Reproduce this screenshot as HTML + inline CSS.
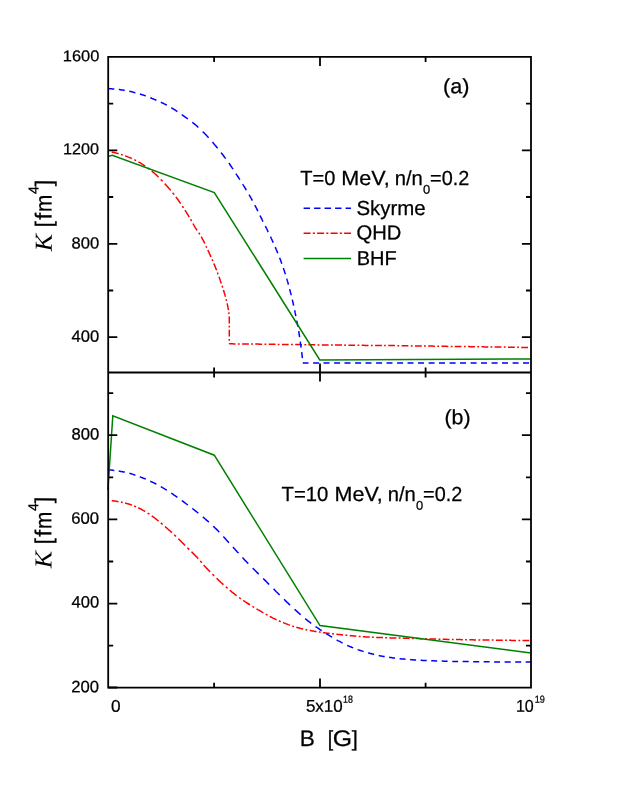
<!DOCTYPE html>
<html><head><meta charset="utf-8"><title>K vs B</title>
<style>
html,body{margin:0;padding:0;background:#fff;}
body{width:623px;height:806px;overflow:hidden;}
svg{display:block;will-change:transform;}
text{font-family:"Liberation Sans",sans-serif;fill:#000;stroke:#000;stroke-width:0.25px;text-rendering:geometricPrecision;}
text.it{font-family:"Liberation Serif",serif;font-style:italic;stroke:none;}
</style></head>
<body>
<svg width="623" height="806" viewBox="0 0 623 806">
<rect x="0" y="0" width="623" height="806" fill="#fff"/>
<g fill="none" stroke-width="1.5" stroke-linejoin="miter">
<path d="M111.7,152.0 112.6,152.2 113.4,152.4 114.3,152.6 115.2,152.8 116.0,153.1 116.9,153.3 117.8,153.5 118.6,153.8 M121.0,154.5 121.9,154.7 122.7,155.0 M125.1,155.8 125.9,156.1 126.8,156.4 127.6,156.7 128.4,157.1 129.3,157.4 130.1,157.8 130.9,158.1 131.7,158.5 131.9,158.6 M134.3,159.7 135.1,160.1 135.9,160.5 136.1,160.6 M138.4,161.9 139.2,162.3 140.0,162.7 140.7,163.2 141.5,163.6 142.2,164.1 143.0,164.6 143.7,165.1 144.5,165.6 145.2,166.1 M147.6,167.8 148.3,168.3 149.0,168.8 149.4,169.2 M151.7,170.9 152.4,171.5 153.0,172.1 153.7,172.6 154.4,173.2 155.0,173.8 155.7,174.4 156.4,175.0 157.0,175.6 157.6,176.3 158.3,176.9 158.5,177.1 M160.8,179.4 161.4,180.1 162.1,180.7 162.6,181.2 M164.7,183.6 165.3,184.2 165.9,184.9 166.5,185.6 167.1,186.2 167.7,186.9 168.3,187.6 168.9,188.3 169.5,188.9 170.1,189.6 170.6,190.3 170.7,190.4 M172.6,192.7 173.1,193.4 173.7,194.1 174.1,194.6 M175.9,196.9 176.4,197.6 176.9,198.3 177.5,199.0 178.0,199.7 178.5,200.5 179.0,201.2 179.5,201.9 180.0,202.6 180.5,203.4 180.7,203.7 M182.3,206.1 182.8,206.8 183.3,207.5 183.5,207.8 M185.0,210.1 185.4,210.9 185.9,211.6 186.4,212.4 186.9,213.1 187.3,213.9 187.8,214.6 188.3,215.4 188.7,216.2 189.2,216.9 189.3,217.1 M190.5,219.3 191.0,220.0 191.4,220.8 191.6,221.1 M192.9,223.5 193.3,224.2 193.8,225.0 194.2,225.8 194.7,226.6 195.1,227.3 195.6,228.1 196.1,228.8 196.6,229.6 197.0,230.3 M198.7,232.7 199.2,233.4 199.7,234.1 199.9,234.4 M201.3,236.7 201.7,237.5 202.1,238.3 202.5,239.1 203.0,239.9 203.4,240.7 203.8,241.5 204.2,242.3 204.6,243.1 204.8,243.5 M206.0,246.0 206.3,246.8 206.7,247.6 206.8,247.7 M207.8,250.0 208.2,250.8 208.6,251.6 209.0,252.4 209.3,253.3 209.7,254.1 210.1,254.9 210.4,255.7 210.8,256.5 211.0,256.8 M212.0,259.3 212.4,260.1 212.8,260.9 212.8,261.1 M213.8,263.4 214.1,264.2 214.5,265.0 214.8,265.9 215.2,266.7 215.5,267.5 215.8,268.3 216.1,269.2 216.5,270.0 216.5,270.2 M217.4,272.5 217.7,273.3 218.0,274.2 218.1,274.3 M219.0,276.7 219.3,277.5 219.6,278.4 219.9,279.2 220.2,280.1 220.4,280.9 220.7,281.8 221.0,282.6 221.3,283.5 M222.1,285.8 222.4,286.7 222.6,287.5 222.7,287.7 M223.4,289.9 223.7,290.8 223.9,291.6 224.2,292.5 224.5,293.3 224.7,294.2 225.0,295.0 225.2,295.9 225.5,296.7 M226.1,299.2 226.3,300.0 226.5,300.9 M227.1,303.3 227.3,304.2 227.5,305.1 227.7,305.9 227.9,306.8 228.0,307.7 228.2,308.6 228.4,309.5 228.5,310.2 M228.8,312.4 228.9,313.3 229.0,314.2 M229.2,316.5 229.3,317.4 229.3,318.4 229.3,319.4 229.3,320.4 229.3,321.4 229.3,322.4 229.3,323.4 M229.3,325.8 229.3,326.8 229.3,327.6 M229.3,329.8 229.3,330.8 229.3,331.8 229.3,332.8 229.3,333.8 229.3,334.8 229.3,335.8 229.3,336.6 M229.3,339.0 229.3,340.0 229.3,340.8 M229.3,343.2 229.7,343.8 230.7,343.8 231.7,343.8 232.7,343.8 233.7,343.9 234.7,343.9 235.5,343.9 M237.9,343.9 238.9,343.9 239.7,343.9 M242.1,344.0 243.1,344.0 244.1,344.0 245.1,344.0 246.1,344.0 247.1,344.0 248.1,344.0 248.9,344.0 M251.1,344.1 252.1,344.1 252.9,344.1 M255.3,344.1 256.3,344.1 257.3,344.1 258.3,344.1 259.3,344.2 260.3,344.2 261.3,344.2 262.1,344.2 M264.5,344.2 265.5,344.2 266.3,344.2 M268.7,344.3 269.7,344.3 270.7,344.3 271.7,344.3 272.7,344.3 273.7,344.3 274.7,344.3 275.5,344.3 M277.7,344.4 278.7,344.4 279.5,344.4 M281.9,344.4 282.9,344.4 283.9,344.4 284.8,344.5 285.8,344.5 286.8,344.5 287.8,344.5 288.6,344.5 M291.0,344.5 292.0,344.5 292.8,344.6 M295.2,344.6 296.2,344.6 297.2,344.6 298.2,344.6 299.2,344.6 300.2,344.6 301.2,344.7 302.0,344.7 M304.4,344.7 305.4,344.7 306.2,344.7 M308.4,344.7 309.4,344.7 310.4,344.8 311.4,344.8 312.4,344.8 313.4,344.8 314.4,344.8 315.2,344.8 M317.6,344.8 318.6,344.9 319.4,344.9 M321.8,344.9 322.8,344.9 323.8,344.9 324.8,344.9 325.8,344.9 326.8,345.0 327.8,345.0 328.6,345.0 M331.0,345.0 332.0,345.0 332.8,345.0 M335.0,345.1 336.0,345.1 337.0,345.1 338.0,345.1 339.0,345.1 340.0,345.1 341.0,345.1 342.0,345.1 M344.2,345.1 345.2,345.2 346.0,345.2 M348.4,345.2 349.4,345.2 350.4,345.2 351.4,345.2 352.4,345.2 353.4,345.2 354.4,345.2 355.1,345.3 M357.5,345.3 358.5,345.3 359.3,345.3 M361.7,345.3 362.7,345.3 363.7,345.3 364.7,345.4 365.7,345.4 366.7,345.4 367.7,345.4 368.5,345.4 M370.9,345.4 371.9,345.4 372.7,345.4 M375.1,345.5 376.1,345.5 377.1,345.5 378.1,345.5 379.1,345.5 380.1,345.5 381.1,345.5 381.9,345.5 M384.1,345.5 385.0,345.6 385.8,345.6 M388.2,345.6 389.2,345.6 390.2,345.6 391.2,345.6 392.2,345.6 393.2,345.6 394.2,345.6 395.0,345.7 M397.4,345.7 398.4,345.7 399.2,345.7 M401.6,345.7 402.6,345.7 403.6,345.7 404.6,345.8 405.6,345.8 406.6,345.8 407.6,345.8 408.4,345.8 M410.8,345.8 411.8,345.9 412.6,345.9 M415.0,345.9 416.0,345.9 417.0,345.9 418.0,345.9 419.0,346.0 420.0,346.0 421.0,346.0 421.8,346.0 M424.0,346.0 425.0,346.0 425.8,346.1 M428.2,346.1 429.2,346.1 430.2,346.1 431.2,346.1 432.2,346.1 433.1,346.2 434.1,346.2 434.9,346.2 M437.3,346.2 438.3,346.2 439.1,346.2 M441.5,346.3 442.5,346.3 443.5,346.3 444.5,346.3 445.5,346.3 446.5,346.3 447.5,346.4 448.3,346.4 M450.7,346.4 451.7,346.4 452.5,346.4 M454.7,346.5 455.7,346.5 456.7,346.5 457.7,346.5 458.7,346.5 459.7,346.5 460.7,346.5 461.5,346.5 M463.9,346.6 464.9,346.6 465.7,346.6 M468.1,346.6 469.1,346.6 470.1,346.7 471.1,346.7 472.1,346.7 473.1,346.7 474.1,346.7 474.9,346.7 M477.3,346.8 478.3,346.8 479.1,346.8 M481.5,346.8 482.5,346.8 483.5,346.8 484.5,346.9 485.5,346.9 486.5,346.9 487.5,346.9 488.3,346.9 M490.5,346.9 491.5,347.0 492.3,347.0 M494.7,347.0 495.7,347.0 496.7,347.0 497.7,347.0 498.6,347.1 499.6,347.1 500.6,347.1 501.4,347.1 M503.8,347.1 504.8,347.1 505.6,347.2 M508.0,347.2 509.0,347.2 510.0,347.2 511.0,347.2 512.0,347.2 513.0,347.3 514.0,347.3 514.8,347.3 M517.2,347.3 518.2,347.3 519.0,347.3 M521.2,347.4 522.2,347.4 523.2,347.4 524.2,347.4 525.2,347.4 526.2,347.4 527.2,347.4 528.0,347.5 M530.4,347.5 531.0,347.5" stroke="#ff0000"/>
<path d="M108.2,88.6 109.1,88.6 109.9,88.7 110.8,88.7 111.7,88.8 112.5,88.9 113.4,88.9 114.3,89.0 M118.8,89.5 119.6,89.6 120.5,89.7 121.3,89.9 122.2,90.0 123.0,90.1 123.9,90.2 124.7,90.4 M129.3,91.2 130.2,91.4 131.0,91.6 131.8,91.8 132.7,92.0 133.5,92.2 134.4,92.4 135.2,92.7 135.4,92.7 M139.9,94.0 140.7,94.3 141.5,94.5 142.3,94.8 143.2,95.1 144.0,95.3 144.8,95.6 145.6,95.9 145.8,96.0 M150.3,97.7 151.1,98.0 151.9,98.4 152.7,98.7 153.5,99.0 154.3,99.4 155.1,99.7 155.9,100.0 156.4,100.2 M160.8,102.2 161.6,102.6 162.4,103.0 163.2,103.3 163.9,103.7 164.7,104.1 165.5,104.5 166.3,104.9 166.9,105.2 M171.2,107.6 172.0,108.1 172.7,108.5 173.5,109.0 174.2,109.5 174.9,109.9 175.6,110.4 176.4,110.9 177.1,111.4 177.4,111.6 M181.8,114.6 182.5,115.1 183.2,115.6 183.9,116.1 184.6,116.6 185.3,117.1 186.0,117.6 186.8,118.1 187.5,118.6 187.9,118.9 M192.3,122.2 193.0,122.8 193.7,123.3 194.3,123.9 195.0,124.4 195.7,125.0 196.3,125.5 197.0,126.1 197.6,126.7 198.2,127.3 198.4,127.4 M202.7,131.6 203.3,132.2 204.0,132.8 204.6,133.4 205.2,134.1 205.8,134.7 206.4,135.3 207.0,135.9 207.5,136.6 208.1,137.2 208.6,137.7 M212.5,142.1 213.1,142.8 213.6,143.4 214.2,144.1 214.7,144.8 215.3,145.4 215.8,146.1 216.4,146.8 216.9,147.4 217.5,148.1 217.6,148.2 M221.1,152.6 221.6,153.3 222.1,153.9 222.6,154.6 223.2,155.3 223.7,156.0 224.2,156.7 224.7,157.4 225.3,158.1 225.7,158.6 M228.9,163.1 229.4,163.8 229.9,164.5 230.4,165.2 230.9,166.0 231.4,166.7 231.9,167.4 232.3,168.1 232.8,168.8 233.0,169.1 M235.9,173.6 236.4,174.3 236.9,175.1 237.4,175.8 237.8,176.5 238.3,177.3 238.8,178.0 239.2,178.7 239.7,179.4 239.9,179.7 M242.7,184.1 243.1,184.8 243.6,185.6 244.1,186.3 244.5,187.0 245.0,187.8 245.4,188.5 245.9,189.3 246.3,190.0 246.4,190.1 M249.1,194.6 249.5,195.4 249.9,196.1 250.3,196.9 250.8,197.6 251.2,198.4 251.6,199.1 252.0,199.9 252.4,200.7 M254.8,205.1 255.2,205.9 255.6,206.6 256.0,207.4 256.4,208.2 256.8,208.9 257.1,209.7 257.5,210.5 257.9,211.1 M260.1,215.6 260.4,216.4 260.8,217.2 261.2,217.9 261.6,218.7 262.0,219.5 262.3,220.3 262.7,221.1 263.0,221.7 M265.3,226.1 265.7,226.9 266.1,227.7 266.5,228.5 266.9,229.2 267.3,230.0 267.7,230.8 268.0,231.6 268.3,232.2 M270.5,236.7 270.9,237.5 271.2,238.3 271.6,239.1 272.0,239.8 272.3,240.6 272.7,241.4 273.0,242.2 273.3,242.7 M275.2,247.1 275.6,247.9 275.9,248.7 276.2,249.5 276.6,250.3 276.9,251.1 277.2,251.9 277.6,252.7 277.8,253.2 M279.6,257.7 279.9,258.5 280.2,259.3 280.5,260.1 280.8,260.9 281.1,261.7 281.4,262.5 281.7,263.4 281.8,263.7 M283.4,268.1 283.7,268.9 283.9,269.7 284.2,270.5 284.5,271.4 284.7,272.2 285.0,273.0 285.3,273.8 285.4,274.2 M286.8,278.6 287.0,279.5 287.2,280.3 287.5,281.1 287.7,282.0 288.0,282.8 288.2,283.6 288.4,284.5 288.5,284.6 M289.7,289.1 289.9,290.0 290.1,290.8 290.3,291.6 290.5,292.5 290.8,293.3 291.0,294.2 291.2,295.0 291.2,295.2 M292.3,299.7 292.5,300.6 292.7,301.4 292.9,302.3 293.1,303.1 293.3,303.9 293.4,304.8 293.6,305.6 M294.6,310.2 294.8,311.0 295.0,311.9 295.1,312.7 295.3,313.6 295.5,314.4 295.7,315.3 295.8,316.1 M296.7,320.7 296.9,321.6 297.1,322.4 297.2,323.3 297.4,324.1 297.6,325.0 297.7,325.8 297.9,326.7 M298.7,331.1 298.8,332.0 299.0,332.8 299.1,333.7 299.2,334.5 299.4,335.4 299.5,336.2 299.6,337.1 M300.3,341.7 300.4,342.6 300.5,343.4 300.7,344.3 300.8,345.1 300.9,346.0 301.0,346.8 301.1,347.7 M301.7,352.2 301.8,353.0 301.9,353.9 302.0,354.7 302.1,355.6 302.2,356.5 302.3,357.3 302.4,358.2 M302.8,362.7 303.5,363.0 304.5,363.0 305.5,363.0 306.5,363.0 307.5,363.0 308.5,363.0 M313.1,363.0 314.1,363.0 315.1,363.0 316.1,363.0 317.1,363.0 318.1,363.0 319.1,363.0 M323.5,363.0 324.5,363.0 325.5,363.0 326.5,363.0 327.5,363.0 328.5,363.0 329.5,363.0 M334.1,363.0 335.1,363.0 336.1,363.0 337.1,363.0 338.1,363.0 339.1,363.0 340.1,363.0 M344.5,363.0 345.5,363.0 346.5,363.0 347.5,363.0 348.5,363.0 349.5,363.0 350.5,363.0 M355.1,363.0 356.1,363.0 357.1,363.0 358.1,363.0 359.1,363.0 360.1,363.0 361.1,363.0 M365.5,363.0 366.5,363.0 367.5,363.0 368.5,363.0 369.5,363.0 370.5,363.0 371.5,363.0 M376.1,363.0 377.1,363.0 378.1,363.0 379.1,363.0 380.1,363.0 381.1,363.0 382.1,363.0 M386.5,363.0 387.5,363.0 388.5,363.0 389.5,363.0 390.5,363.0 391.5,363.0 392.5,363.0 M397.1,363.0 398.1,363.0 399.1,363.0 400.1,363.0 401.1,363.0 402.1,363.0 403.1,363.0 M407.5,363.0 408.5,363.0 409.5,363.0 410.5,363.0 411.5,363.0 412.5,363.0 413.5,363.0 M418.0,363.0 419.0,363.0 420.0,363.0 421.0,363.0 422.0,363.0 423.0,363.0 424.0,363.0 M428.6,363.0 429.6,363.0 430.6,363.0 431.6,363.0 432.6,363.0 433.6,363.0 434.6,363.0 M439.0,363.0 440.0,363.0 441.0,363.0 442.0,363.0 443.0,363.0 444.0,363.0 445.0,363.0 M449.6,363.0 450.6,363.0 451.6,363.0 452.6,363.0 453.6,363.0 454.6,363.0 455.6,363.0 M460.0,363.0 461.0,363.0 462.0,363.0 463.0,363.0 464.0,363.0 465.0,363.0 466.0,363.0 M470.6,363.0 471.6,363.0 472.6,363.0 473.6,363.0 474.6,363.0 475.6,363.0 476.6,363.0 M481.0,363.0 482.0,363.0 483.0,363.0 484.0,363.0 485.0,363.0 486.0,363.0 487.0,363.0 M491.6,363.0 492.6,363.0 493.6,363.0 494.6,363.0 495.6,363.0 496.6,363.0 497.6,363.0 M502.0,363.0 503.0,363.0 504.0,363.0 505.0,363.0 506.0,363.0 507.0,363.0 508.0,363.0 M512.6,363.0 513.6,363.0 514.6,363.0 515.6,363.0 516.6,363.0 517.6,363.0 518.6,363.0 M523.0,363.0 524.0,363.0 525.0,363.0 526.0,363.0 527.0,363.0 528.0,363.0 529.0,363.0" stroke="#0000ff"/>
<path d="M108.2,156.5 L112.3,155.4 L214.3,192.5 L319.8,360 L531.0,359.0" stroke="#008000"/>
<path d="M111.7,500.7 112.6,500.8 113.6,500.9 114.5,501.0 115.4,501.1 116.3,501.3 117.3,501.4 118.2,501.6 118.5,501.7 M120.9,502.1 121.8,502.3 122.7,502.5 M125.1,503.0 126.0,503.3 126.8,503.5 127.7,503.7 128.6,504.0 129.5,504.3 130.4,504.6 131.3,504.9 132.0,505.2 M134.2,506.0 135.1,506.4 136.0,506.8 136.1,506.8 M138.3,507.8 139.2,508.2 140.0,508.6 140.8,509.0 141.6,509.5 142.4,509.9 143.3,510.4 144.1,510.8 144.9,511.3 145.2,511.5 M147.6,513.0 148.3,513.5 149.1,514.0 149.4,514.3 M151.7,515.8 152.5,516.4 153.2,516.9 154.0,517.4 154.7,518.0 155.4,518.6 156.2,519.1 156.9,519.7 157.6,520.3 158.4,520.9 158.5,521.0 M160.8,522.9 161.5,523.5 162.2,524.1 162.6,524.5 M165.0,526.5 165.7,527.1 166.4,527.7 167.1,528.3 167.8,529.0 168.5,529.6 169.2,530.2 169.9,530.8 170.6,531.4 171.3,532.1 171.8,532.6 M174.2,534.7 174.8,535.3 175.5,536.0 176.0,536.5 M178.3,538.7 179.0,539.3 179.6,540.0 180.3,540.6 181.0,541.3 181.6,542.0 182.3,542.6 182.9,543.3 183.6,543.9 184.2,544.6 184.9,545.3 185.1,545.5 M187.4,547.8 188.0,548.4 188.7,549.1 189.2,549.6 M191.5,551.8 192.2,552.4 192.8,553.1 193.5,553.7 194.2,554.4 194.8,555.0 195.5,555.7 196.1,556.4 196.8,557.0 197.4,557.7 198.0,558.4 198.3,558.6 M200.2,560.9 200.8,561.6 201.4,562.3 201.8,562.7 M203.7,565.0 204.3,565.7 205.0,566.4 205.6,567.1 206.2,567.7 206.8,568.4 207.5,569.1 208.1,569.8 208.8,570.4 209.4,571.1 210.1,571.8 210.2,571.9 M212.4,574.2 213.1,574.8 213.7,575.5 214.2,576.0 M216.5,578.2 217.2,578.8 217.9,579.5 218.5,580.1 219.2,580.8 219.9,581.4 220.5,582.0 221.2,582.7 221.9,583.3 222.6,583.9 223.3,584.6 223.4,584.7 M225.8,586.8 226.5,587.4 227.2,588.0 227.6,588.4 M229.8,590.3 230.6,590.9 231.3,591.5 232.0,592.1 232.7,592.7 233.4,593.2 234.2,593.8 234.9,594.4 235.6,594.9 236.4,595.5 236.7,595.7 M239.1,597.5 239.8,598.0 240.6,598.6 240.9,598.8 M243.2,600.4 243.9,600.9 244.7,601.4 245.5,602.0 246.2,602.5 247.0,603.0 247.8,603.5 248.6,604.0 249.4,604.5 250.0,604.9 M252.4,606.3 253.2,606.8 254.0,607.3 254.1,607.4 M256.5,608.8 257.3,609.3 258.1,609.8 258.9,610.2 259.7,610.7 260.5,611.2 261.3,611.7 262.1,612.2 262.9,612.6 263.4,612.9 M265.6,614.2 266.5,614.7 267.3,615.1 267.4,615.2 M269.7,616.4 270.5,616.8 271.4,617.2 272.2,617.7 273.0,618.1 273.9,618.5 274.7,618.9 275.6,619.3 276.4,619.7 276.6,619.7 M278.9,620.8 279.8,621.2 280.6,621.5 280.8,621.6 M283.0,622.5 283.9,622.9 284.8,623.2 285.6,623.6 286.5,623.9 287.4,624.3 288.2,624.6 289.1,624.9 290.0,625.2 M292.3,626.0 293.1,626.3 294.0,626.6 M296.3,627.3 297.2,627.6 298.1,627.8 299.0,628.0 299.9,628.3 300.8,628.5 301.7,628.7 302.6,628.9 303.2,629.1 M305.5,629.6 306.4,629.8 307.3,630.0 M309.7,630.5 310.6,630.6 311.5,630.8 312.4,630.9 313.4,631.1 314.3,631.3 315.2,631.4 316.1,631.6 316.5,631.6 M318.9,632.0 319.8,632.1 320.7,632.3 M322.9,632.6 323.8,632.7 324.7,632.8 325.7,632.9 326.6,633.1 327.5,633.2 328.4,633.3 329.4,633.4 329.7,633.5 M332.1,633.7 333.0,633.8 334.0,633.9 M336.4,634.2 337.3,634.3 338.2,634.4 339.1,634.5 340.1,634.6 341.0,634.7 341.9,634.8 342.8,634.9 343.0,634.9 M345.4,635.1 346.3,635.2 347.3,635.3 M349.7,635.6 350.6,635.7 351.5,635.7 352.4,635.8 353.4,635.9 354.3,636.0 355.2,636.1 356.1,636.2 356.3,636.2 M358.7,636.4 359.7,636.5 360.6,636.5 M362.8,636.7 363.7,636.8 364.7,636.8 365.6,636.9 366.5,636.9 367.4,637.0 368.4,637.0 369.3,637.1 369.7,637.1 M372.1,637.2 373.0,637.2 373.9,637.3 M376.2,637.4 377.1,637.4 378.0,637.4 378.9,637.5 379.9,637.5 380.8,637.5 381.7,637.6 382.6,637.6 383.0,637.6 M385.2,637.7 386.2,637.7 387.1,637.8 M389.5,637.8 390.4,637.9 391.4,637.9 392.3,637.9 393.2,637.9 394.2,638.0 395.1,638.0 396.0,638.0 396.4,638.0 M398.6,638.1 399.5,638.1 400.5,638.1 M402.7,638.2 403.6,638.2 404.6,638.2 405.5,638.3 406.4,638.3 407.3,638.3 408.3,638.3 409.2,638.4 409.6,638.4 M412.0,638.4 412.9,638.5 413.7,638.5 M416.1,638.6 417.0,638.6 417.9,638.6 418.9,638.6 419.8,638.7 420.7,638.7 421.6,638.7 422.6,638.7 422.9,638.7 M425.2,638.8 426.1,638.8 427.0,638.9 M429.4,638.9 430.4,638.9 431.3,639.0 432.2,639.0 433.1,639.0 434.1,639.0 435.0,639.1 435.9,639.1 436.1,639.1 M438.5,639.2 439.5,639.2 440.4,639.2 M442.6,639.3 443.5,639.3 444.5,639.3 445.4,639.3 446.3,639.3 447.3,639.4 448.2,639.4 449.1,639.4 449.5,639.4 M451.9,639.5 452.8,639.5 453.6,639.5 M456.0,639.6 456.9,639.6 457.8,639.6 458.8,639.6 459.7,639.6 460.6,639.6 461.6,639.7 462.5,639.7 462.9,639.7 M465.1,639.7 466.0,639.7 466.9,639.7 M469.4,639.8 470.3,639.8 471.2,639.8 472.1,639.8 473.1,639.8 474.0,639.9 474.9,639.9 475.8,639.9 476.0,639.9 M478.4,639.9 479.4,639.9 480.3,640.0 M482.5,640.0 483.5,640.0 484.4,640.0 485.3,640.0 486.2,640.0 487.2,640.1 488.1,640.1 489.0,640.1 489.4,640.1 M491.8,640.1 492.7,640.1 493.5,640.1 M495.9,640.2 496.8,640.2 497.8,640.2 498.7,640.2 499.6,640.2 500.5,640.2 501.5,640.2 502.4,640.3 502.8,640.3 M505.0,640.3 505.9,640.3 506.9,640.3 M509.1,640.3 510.0,640.3 510.9,640.3 511.9,640.4 512.8,640.4 513.7,640.4 514.7,640.4 515.6,640.4 516.0,640.4 M518.4,640.4 519.3,640.4 520.2,640.4 M522.5,640.4 523.4,640.5 524.3,640.5 525.2,640.5 526.2,640.5 527.1,640.5 528.0,640.5 529.0,640.5 529.3,640.5" stroke="#ff0000"/>
<path d="M108.2,469.8 109.2,469.9 110.2,470.0 111.1,470.0 112.1,470.1 113.1,470.3 114.1,470.4 114.3,470.4 M118.7,471.1 119.7,471.2 120.6,471.4 121.6,471.6 122.5,471.8 123.5,472.0 124.5,472.1 124.8,472.2 M129.4,473.3 130.3,473.6 131.3,473.8 132.2,474.1 133.1,474.4 134.1,474.8 135.0,475.1 135.4,475.2 M139.8,476.8 140.7,477.1 141.6,477.5 142.5,477.8 143.4,478.2 144.3,478.5 145.2,478.9 145.8,479.2 M150.2,481.2 151.1,481.6 152.0,482.0 152.9,482.4 153.8,482.8 154.6,483.3 155.5,483.7 156.4,484.2 M160.8,486.6 161.7,487.1 162.5,487.6 163.4,488.1 164.2,488.6 165.0,489.1 165.9,489.6 166.7,490.1 166.9,490.2 M171.3,493.1 172.1,493.7 172.9,494.2 173.7,494.8 174.5,495.4 175.3,495.9 176.1,496.5 176.9,497.0 177.4,497.4 M181.8,500.5 182.6,501.1 183.4,501.7 184.2,502.3 185.0,502.9 185.8,503.5 186.5,504.0 187.3,504.6 187.8,505.0 M192.3,508.4 193.1,509.0 193.8,509.6 194.6,510.2 195.4,510.8 196.1,511.4 196.9,512.0 197.7,512.7 198.3,513.1 M202.8,516.9 203.5,517.5 204.3,518.1 205.0,518.8 205.8,519.4 206.5,520.1 207.2,520.7 208.0,521.3 208.7,522.0 208.9,522.1 M213.3,526.2 214.0,526.9 214.7,527.6 215.4,528.2 216.1,528.9 216.8,529.6 217.5,530.3 218.2,531.0 218.9,531.7 219.3,532.1 M223.4,536.6 224.0,537.3 224.7,538.0 225.4,538.7 226.0,539.5 226.7,540.2 227.3,540.9 228.0,541.7 228.6,542.4 228.9,542.7 M233.0,547.1 233.7,547.9 234.3,548.6 235.0,549.3 235.6,550.0 236.3,550.7 236.9,551.5 237.6,552.2 238.3,552.9 238.4,553.1 M242.5,557.5 243.2,558.2 243.8,559.0 244.5,559.7 245.2,560.4 245.8,561.1 246.5,561.8 247.2,562.5 247.9,563.2 248.3,563.6 M252.7,568.1 253.4,568.7 254.1,569.4 254.7,570.1 255.4,570.8 256.1,571.5 256.8,572.2 257.5,572.9 258.2,573.6 258.8,574.1 M263.2,578.5 263.9,579.2 264.6,579.9 265.3,580.6 266.0,581.3 266.7,582.0 267.4,582.7 268.0,583.4 268.7,584.1 269.1,584.5 M273.6,588.9 274.3,589.6 274.9,590.3 275.6,591.0 276.3,591.7 277.0,592.3 277.7,593.0 278.4,593.7 279.1,594.4 279.7,594.9 M284.1,599.3 284.8,600.0 285.5,600.7 286.2,601.4 286.9,602.1 287.6,602.7 288.3,603.4 289.0,604.1 289.7,604.8 290.2,605.2 M294.6,609.3 295.3,609.9 296.1,610.6 296.8,611.3 297.5,611.9 298.2,612.6 299.0,613.2 299.7,613.9 300.4,614.5 300.7,614.8 M305.2,618.6 305.9,619.2 306.7,619.8 307.4,620.4 308.2,621.1 309.0,621.7 309.8,622.2 310.5,622.8 311.2,623.3 M315.6,626.5 316.4,627.0 317.2,627.6 318.0,628.1 318.8,628.7 319.6,629.3 320.4,629.8 321.3,630.4 321.7,630.7 M326.2,633.6 327.0,634.1 327.8,634.6 328.7,635.1 329.5,635.6 330.3,636.1 331.2,636.6 332.0,637.1 332.2,637.2 M336.6,639.8 337.4,640.3 338.3,640.8 339.1,641.2 340.0,641.7 340.9,642.2 341.7,642.6 342.6,643.1 M347.2,645.3 348.0,645.7 348.9,646.1 349.8,646.5 350.7,646.8 351.6,647.2 352.5,647.6 353.2,647.9 M357.6,649.6 358.6,649.9 359.5,650.2 360.4,650.5 361.4,650.8 362.3,651.1 363.2,651.4 363.6,651.6 M368.1,652.9 369.0,653.1 370.0,653.4 370.9,653.6 371.9,653.9 372.8,654.1 373.7,654.3 374.1,654.4 M378.7,655.5 379.7,655.7 380.6,655.9 381.6,656.1 382.6,656.2 383.5,656.4 384.5,656.6 384.7,656.6 M389.1,657.3 390.1,657.5 391.0,657.6 392.0,657.7 393.0,657.9 393.9,658.0 394.9,658.1 395.1,658.1 M399.6,658.7 400.5,658.8 401.5,658.9 402.5,659.0 403.5,659.1 404.4,659.1 405.4,659.2 405.6,659.2 M410.1,659.6 411.1,659.7 412.0,659.7 413.0,659.8 414.0,659.9 415.0,659.9 415.9,660.0 416.1,660.0 M420.6,660.3 421.6,660.3 422.6,660.4 423.5,660.4 424.5,660.5 425.5,660.5 426.5,660.5 426.7,660.5 M431.2,660.7 432.1,660.8 433.1,660.8 434.1,660.8 435.1,660.9 436.0,660.9 437.0,660.9 437.2,660.9 M441.7,661.1 442.7,661.1 443.7,661.2 444.6,661.2 445.6,661.2 446.6,661.2 447.6,661.3 M452.3,661.4 453.2,661.4 454.2,661.4 455.2,661.5 456.2,661.5 457.1,661.5 458.1,661.5 M462.6,661.6 463.6,661.6 464.6,661.6 465.5,661.6 466.5,661.6 467.5,661.6 468.5,661.6 468.7,661.6 M473.2,661.7 474.1,661.7 475.1,661.7 476.1,661.7 477.1,661.7 478.0,661.7 479.0,661.7 479.2,661.7 M483.7,661.8 484.7,661.8 485.7,661.8 486.6,661.8 487.6,661.8 488.6,661.8 489.6,661.8 M494.1,661.9 495.0,661.9 496.0,661.9 497.0,661.9 498.0,661.9 499.0,661.9 499.9,661.9 500.1,661.9 M504.6,661.9 505.6,661.9 506.6,661.9 507.5,661.9 508.5,661.9 509.5,662.0 510.5,662.0 510.7,662.0 M515.2,662.0 516.1,662.0 517.1,662.0 518.1,662.0 519.1,662.0 520.1,662.0 521.0,662.0 521.2,662.0 M525.7,662.0 526.7,662.0 527.7,662.0 528.7,662.0 529.6,662.0 530.6,662.0 531.0,662.0" stroke="#0000ff"/>
<path d="M107.9,490 L112.8,415.9 L214.3,455.2 L320,625.6 L531.0,652.9" stroke="#008000"/>
<path d="M303.6,208.2 L351,208.2" stroke="#0000ff" stroke-dasharray="6.4 4.1"/>
<path d="M303.6,233.2 L351,233.2" stroke="#ff0000" stroke-dasharray="7 2.2 2.1 2.2"/>
<path d="M303.6,258.4 L351,258.4" stroke="#008000"/>
</g>
<g fill="none" stroke="#000" stroke-width="1.8" stroke-linecap="butt">
<path d="M108.2,56.0 L108.2,688.6 M531.0,56.0 L531.0,688.6 M107.3,56.9 L531.9,56.9 M107.3,372.5 L531.9,372.5 M107.3,687.7 L531.9,687.7"/>
<path d="M108.2,150.3 L117.3,150.3 M531.0,150.3 L521.9,150.3 M108.2,243.8 L117.3,243.8 M531.0,243.8 L521.9,243.8 M108.2,337.2 L117.3,337.2 M531.0,337.2 L521.9,337.2 M108.2,103.6 L113.2,103.6 M531.0,103.6 L526.0,103.6 M108.2,197.0 L113.2,197.0 M531.0,197.0 L526.0,197.0 M108.2,290.5 L113.2,290.5 M531.0,290.5 L526.0,290.5 M108.2,435.2 L117.3,435.2 M531.0,435.2 L521.9,435.2 M108.2,519.4 L117.3,519.4 M531.0,519.4 L521.9,519.4 M108.2,603.6 L117.3,603.6 M531.0,603.6 L521.9,603.6 M108.2,393.2 L113.2,393.2 M531.0,393.2 L526.0,393.2 M108.2,477.3 L113.2,477.3 M531.0,477.3 L526.0,477.3 M108.2,561.5 L113.2,561.5 M531.0,561.5 L526.0,561.5 M108.2,645.6 L113.2,645.6 M531.0,645.6 L526.0,645.6 M108.2,687.5 L117.3,687.5 M320.0,56.9 L320.0,66.0 M320.0,363.4 L320.0,381.6 M320.0,687.7 L320.0,678.6 M214.1,56.9 L214.1,61.9 M214.1,367.5 L214.1,377.5 M214.1,687.7 L214.1,682.7 M425.6,56.9 L425.6,61.9 M425.6,367.5 L425.6,377.5 M425.6,687.7 L425.6,682.7"/>
</g>
<text transform="matrix(1.0519 0.0005 -0.0005 1 62.77 61.24)" font-size="15.63">1600</text>
<text transform="matrix(1.0275 0.0005 -0.0005 1 62.88 154.24)" font-size="15.77">1200</text>
<text transform="matrix(1.0264 0.0005 -0.0005 1 71.40 248.44)" font-size="16.20">800</text>
<text transform="matrix(1.0144 0.0005 -0.0005 1 71.49 341.64)" font-size="16.34">400</text>
<text transform="matrix(1.0175 0.0005 -0.0005 1 71.40 439.44)" font-size="16.34">800</text>
<text transform="matrix(1.0035 0.0005 -0.0005 1 71.32 523.73)" font-size="16.62">600</text>
<text transform="matrix(1.0057 0.0005 -0.0005 1 71.49 607.54)" font-size="16.48">400</text>
<text transform="matrix(1.0077 0.0005 -0.0005 1 71.32 692.33)" font-size="16.55">200</text>
<text transform="matrix(1.0214 0.0005 -0.0005 1 110.91 711.73)" font-size="16.90">0</text>
<text transform="matrix(0.9967 0.0005 -0.0005 1 305.92 711.83)" font-size="17.04">5x10</text>
<text transform="matrix(0.8602 0.0005 -0.0005 1 343.04 702.70)" font-size="10.28">18</text>
<text transform="matrix(0.9418 0.0005 -0.0005 1 515.95 711.83)" font-size="17.04">10</text>
<text transform="matrix(0.8891 0.0005 -0.0005 1 534.76 702.70)" font-size="10.28">19</text>
<text transform="matrix(1.0068 0.0005 -0.0005 1 299.69 745.90)" font-size="22.46">B</text>
<text transform="matrix(0.8937 0.0005 -0.0005 1 327.63 746.02)" font-size="21.82">[</text>
<text transform="matrix(1.1002 0.0005 -0.0005 1 332.82 745.97)" font-size="22.54">G</text>
<text transform="matrix(1.0107 0.0005 -0.0005 1 351.78 746.02)" font-size="21.82">]</text>
<text transform="matrix(1.0344 0.0005 -0.0005 1 442.98 93.32)" font-size="20.86">(a)</text>
<text transform="matrix(1.0296 0.0005 -0.0005 1 444.42 424.34)" font-size="20.75">(b)</text>
<text transform="matrix(0.9804 0.0005 -0.0005 1 300.30 185.10)" font-size="20.40">T=0</text>
<text transform="matrix(1.0585 0.0005 -0.0005 1 341.37 185.10)" font-size="20.40">MeV,</text>
<text transform="matrix(0.9921 0.0005 -0.0005 1 394.68 185.10)" font-size="20.40">n/n</text>
<text transform="matrix(1.0214 0.0005 -0.0005 1 423.08 193.67)" font-size="12.68">0</text>
<text transform="matrix(0.9725 0.0005 -0.0005 1 430.11 185.10)" font-size="20.40">=0.2</text>
<text transform="matrix(0.9935 0.0005 -0.0005 1 281.59 501.10)" font-size="20.40">T=10</text>
<text transform="matrix(1.0538 0.0005 -0.0005 1 334.58 501.10)" font-size="20.40">MeV,</text>
<text transform="matrix(0.9921 0.0005 -0.0005 1 387.68 501.10)" font-size="20.40">n/n</text>
<text transform="matrix(1.0214 0.0005 -0.0005 1 416.08 509.67)" font-size="12.68">0</text>
<text transform="matrix(0.9725 0.0005 -0.0005 1 423.11 501.10)" font-size="20.40">=0.2</text>
<text transform="matrix(1.0018 0.0005 -0.0005 1 356.44 214.90)" font-size="20.40">Skyrme</text>
<text transform="matrix(0.9905 0.0005 -0.0005 1 356.45 239.50)" font-size="20.40">QHD</text>
<text transform="matrix(1.0047 0.0005 -0.0005 1 356.66 265.10)" font-size="19.93">BHF</text>
<text transform="matrix(0.0005 -1.0618 1 0.0005 51.70 251.34)" font-size="24.46" class="it">K</text>
<text transform="matrix(0.0005 -0.9775 1 0.0005 51.76 227.41)" font-size="23.53">[</text>
<text transform="matrix(0.0005 -1.0748 1 0.0005 51.50 219.77)" font-size="23.17">f</text>
<text transform="matrix(0.0005 -0.9021 1 0.0005 51.60 211.95)" font-size="22.96">m</text>
<text transform="matrix(0.0005 -0.9897 1 0.0005 38.60 194.05)" font-size="14.35">4</text>
<text transform="matrix(0.0005 -1.0026 1 0.0005 51.76 186.34)" font-size="23.53">]</text>
<text transform="matrix(0.0005 -1.0618 1 0.0005 51.40 568.34)" font-size="24.46" class="it">K</text>
<text transform="matrix(0.0005 -0.9775 1 0.0005 51.46 544.41)" font-size="23.53">[</text>
<text transform="matrix(0.0005 -1.0748 1 0.0005 51.20 536.77)" font-size="23.17">f</text>
<text transform="matrix(0.0005 -0.9021 1 0.0005 51.30 528.95)" font-size="22.96">m</text>
<text transform="matrix(0.0005 -0.9897 1 0.0005 38.30 511.06)" font-size="14.35">4</text>
<text transform="matrix(0.0005 -1.0026 1 0.0005 51.46 503.34)" font-size="23.53">]</text>
</svg>
</body></html>
